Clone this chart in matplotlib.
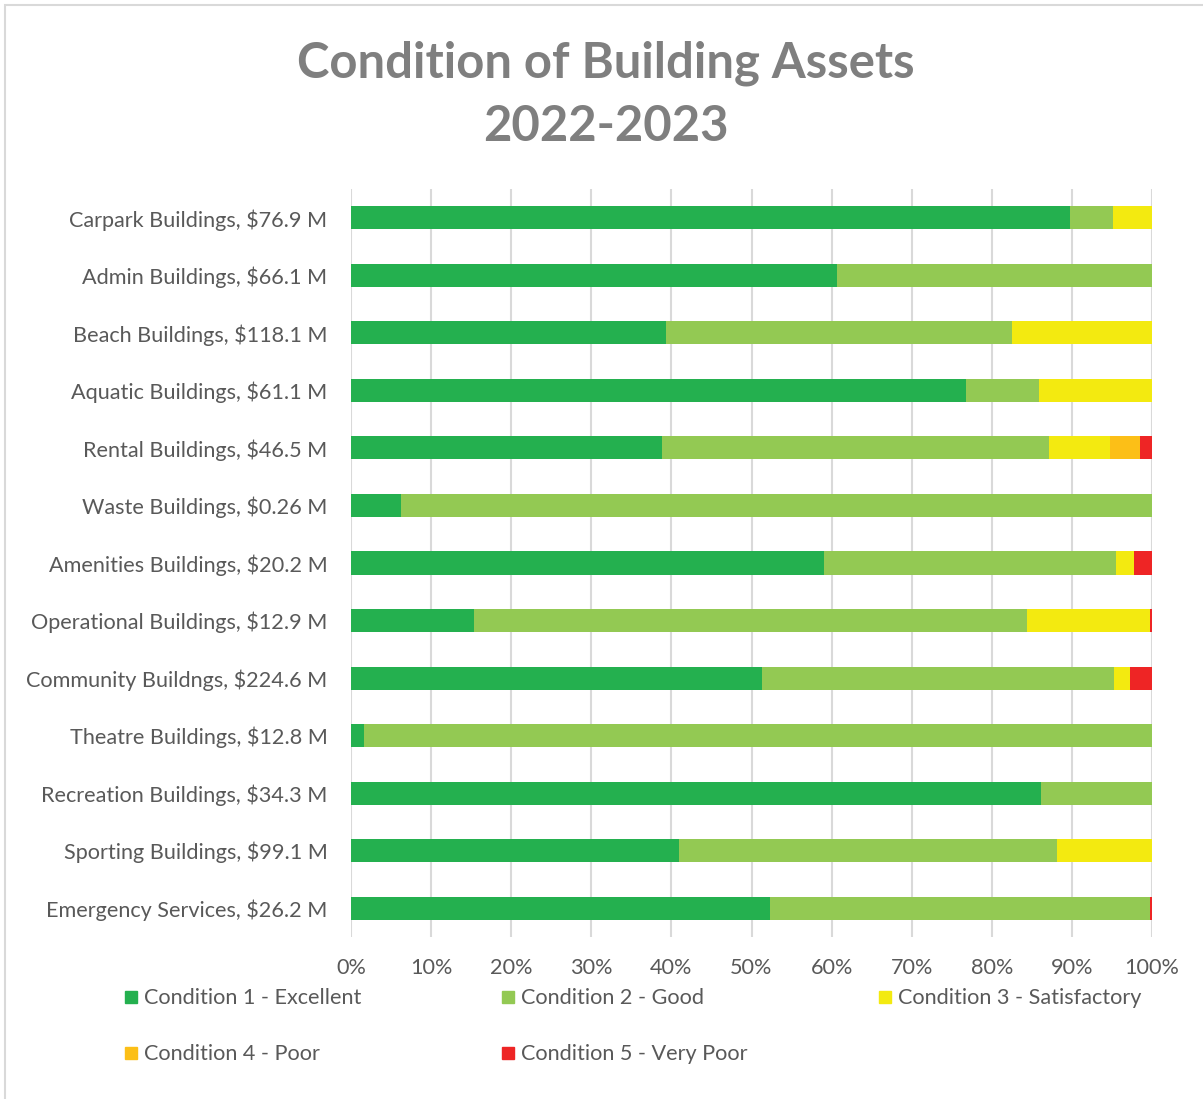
import matplotlib.pyplot as plt
from matplotlib.patches import Rectangle
from matplotlib.ticker import PercentFormatter

plt.rcParams['font.family'] = ['Lato', 'DejaVu Sans']

categories = ['Carpark Buildings, $76.9 M', 'Admin Buildings, $66.1 M',
              'Beach Buildings, $118.1 M', 'Aquatic Buildings, $61.1 M',
              'Rental Buildings, $46.5 M', 'Waste Buildings, $0.26 M',
              'Amenities Buildings, $20.2 M', 'Operational Buildings, $12.9 M',
              'Community Buildngs, $224.6 M', 'Theatre Buildings, $12.8 M',
              'Recreation Buildings, $34.3 M', 'Sporting Buildings, $99.1 M',
              'Emergency Services, $26.2 M']

# share of value (%) in each condition
cond1 = [89.8, 60.7, 39.3, 76.8, 38.8, 6.2, 59.1, 15.4, 51.3, 1.6, 86.1, 40.9, 52.3]
cond2 = [5.3, 39.3, 43.2, 9.1, 48.3, 93.8, 36.4, 69.0, 43.9, 98.4, 13.9, 47.3, 47.5]
cond3 = [4.9, 0, 17.5, 14.1, 7.7, 0, 2.2, 15.4, 2.1, 0, 0, 11.8, 0]
cond4 = [0, 0, 0, 0, 3.7, 0, 0, 0, 0, 0, 0, 0, 0]
cond5 = [0, 0, 0, 0, 1.5, 0, 2.3, 0.2, 2.7, 0, 0, 0, 0.2]

series = [cond1, cond2, cond3, cond4, cond5]
labels = ['Condition 1 - Excellent', 'Condition 2 - Good', 'Condition 3 - Satisfactory',
          'Condition 4 - Poor', 'Condition 5 - Very Poor']
colours = ['#24B04F', '#93C953', '#F3EA10', '#FCBF17', '#EE2525']

W, H = 1203, 1099
fig = plt.figure(figsize=(W / 100, H / 100), dpi=100)
ax = fig.add_axes([351 / W, 1 - 937 / H, (1152 - 351) / W, (937 - 189) / H])

# chart border
fig.patches.append(Rectangle((5 / W, -0.01), 1.1, 1 - 5 / H + 0.01, transform=fig.transFigure,
                             fill=False, edgecolor='#d9d9d9', linewidth=1.5))

y = list(range(len(categories)))
left = [0] * len(categories)
for vals, lbl, col in zip(series, labels, colours):
    ax.barh(y, vals, left=left, height=0.4, color=col, label=lbl, zorder=3)
    left = [a + b for a, b in zip(left, vals)]

ax.set_ylim(len(categories) - 0.5, -0.5)
ax.set_yticks(y)
ax.set_yticklabels(categories)
ax.set_xlim(0, 100)
ax.set_xticks(range(0, 101, 10))
ax.xaxis.set_major_formatter(PercentFormatter(decimals=0))
ax.tick_params(axis='both', length=0, labelsize=15.6, labelcolor='#595959')
ax.tick_params(axis='y', pad=17)
ax.tick_params(axis='x', pad=15)
ax.grid(axis='x', color='#d9d9d9', linewidth=1.5, zorder=0)
for s in ax.spines.values():
    s.set_visible(False)

fig.text(606 / W, 1 - 95 / H, 'Condition of Building Assets\n2022-2023', ha='center', va='center',
         fontsize=35.3, fontweight='bold', color='#7f7f7f', linespacing=1.48)

# legend laid out like the original, 3 columns
pos = [(125, 997), (502, 997), (879, 997), (125, 1053), (502, 1053)]
for (px, py), lbl, col in zip(pos, labels, colours):
    fig.patches.append(Rectangle((px / W, 1 - (py + 6) / H), 12 / W, 12 / H,
                                 transform=fig.transFigure, color=col))
    fig.text((px + 19) / W, 1 - (py + 1) / H, lbl, va='center', ha='left', fontsize=15.6, color='#595959')

fig.savefig('out.png', dpi=100)
